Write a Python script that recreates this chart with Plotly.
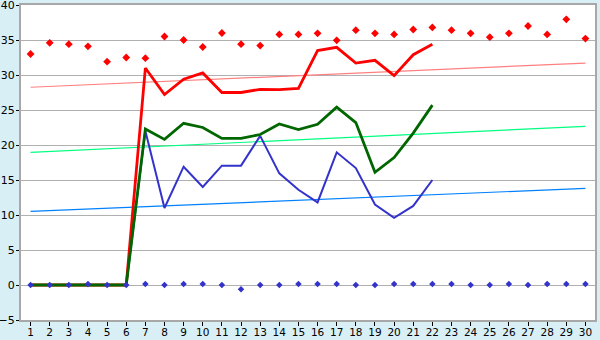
import plotly.graph_objects as go

days = list(range(1, 31))
line_days = list(range(1, 23))

red_points = [33.0, 34.6, 34.4, 34.1, 31.9, 32.5, 32.4, 35.5, 35.0, 34.0,
              36.0, 34.4, 34.2, 35.8, 35.8, 35.95, 34.95, 36.4, 35.95, 35.8,
              36.5, 36.8, 36.4, 35.95, 35.4, 35.95, 37.0, 35.8, 37.95, 35.2]
blue_points = [0, 0, 0, 0.15, 0, 0, 0.15, 0, 0.15, 0.15,
               0, -0.6, 0, 0, 0.15, 0.15, 0.15, 0, 0, 0.15,
               0.15, 0.15, 0.15, 0, 0, 0.15, 0, 0.15, 0.15, 0.15]

red_line = [0, 0, 0, 0, 0, 0, 31.0, 27.2, 29.4, 30.3, 27.5, 27.5, 27.95, 27.9,
            28.1, 33.5, 33.95, 31.7, 32.1, 29.9, 32.9, 34.4]
green_line = [0, 0, 0, 0, 0, 0, 22.3, 20.8, 23.1, 22.5, 20.95, 20.95, 21.5, 23.0,
              22.2, 22.95, 25.4, 23.2, 16.1, 18.2, 21.7, 25.7]
blue_line = [0, 0, 0, 0, 0, 0, 22.0, 11.0, 16.9, 14.0, 17.05, 17.05, 21.3, 15.95,
             13.6, 11.8, 18.95, 16.7, 11.5, 9.6, 11.3, 15.0]

trend_days = [1, 30]
red_trend = [28.25, 31.7]
green_trend = [18.95, 22.67]
blue_trend = [10.52, 13.8]

y_ticks = list(range(-5, 41, 5))

fig = go.Figure()

for vals, col in [(red_trend, "#FF8080"), (green_trend, "#00FF80"), (blue_trend, "#0080FF")]:
    fig.add_trace(go.Scatter(x=trend_days, y=vals, mode="lines",
                             line=dict(color=col, width=1.2), hoverinfo="skip"))

fig.add_trace(go.Scatter(x=line_days, y=blue_line, mode="lines",
                         line=dict(color="#3333CC", width=2)))
fig.add_trace(go.Scatter(x=line_days, y=red_line, mode="lines",
                         line=dict(color="#FF0000", width=2.8)))
fig.add_trace(go.Scatter(x=line_days, y=green_line, mode="lines",
                         line=dict(color="#006600", width=2.8)))

fig.add_trace(go.Scatter(x=days, y=red_points, mode="markers",
                         marker=dict(symbol="diamond", size=6, color="#FF0000")))
fig.add_trace(go.Scatter(x=days, y=blue_points, mode="markers",
                         marker=dict(symbol="diamond", size=5, color="#3333CC")))

fig.update_layout(
    width=600, height=340,
    margin=dict(l=21, r=5, t=5, b=20, autoexpand=False),
    paper_bgcolor="#D9EFF6",
    plot_bgcolor="#FFFFFF",
    showlegend=False,
    font=dict(family="DejaVu Sans", size=11, color="#000000"),
)
fig.update_xaxes(
    range=[0.5, 30.5], tickmode="array", tickvals=days, ticktext=[str(d) for d in days],
    showgrid=False, showline=True, linecolor="#A8A8A8", linewidth=2, mirror=True,
    ticks="outside", ticklen=4, tickcolor="#000000", tickfont=dict(size=10.5),
    ticklabelstandoff=-3, ticklabeloverflow="allow",
    zeroline=False, automargin=False,
)
fig.update_yaxes(
    range=[-5, 40], tickmode="array", tickvals=y_ticks,
    showgrid=True, gridcolor="#B0B0B0", gridwidth=1,
    showline=True, linecolor="#A8A8A8", linewidth=2, mirror=True,
    ticks="outside", ticklen=3, tickcolor="#000000", tickfont=dict(size=11),
    ticklabelstandoff=-1, ticklabeloverflow="allow",
    zeroline=False, automargin=False,
)

fig.write_html("out.html")
